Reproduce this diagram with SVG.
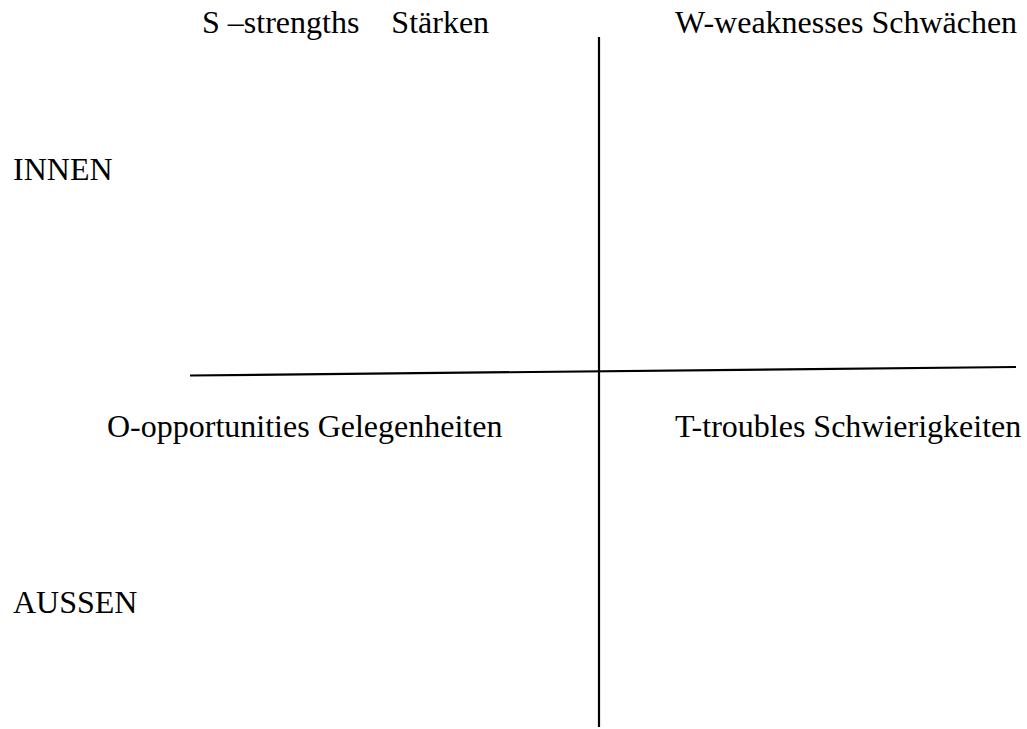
<svg xmlns="http://www.w3.org/2000/svg" width="1027" height="729" viewBox="0 0 1027 729">
  <style>
    .lbl { font-family: "Liberation Serif", "Times New Roman", serif; font-size: 32px; fill: #000; }
    .axis { stroke: #000; stroke-width: 2.2; fill: none; }
  </style>
  <rect width="1027" height="729" fill="#fff"/>
  <g id="connectors">
    <line class="axis" x1="599" y1="37" x2="599" y2="727"/>
    <line class="axis" x1="190" y1="375.5" x2="1016" y2="367"/>
  </g>
  <g id="strengths"><text class="lbl" x="202" y="33" xml:space="preserve">S –strengths    Stärken</text></g>
  <g id="weaknesses"><text class="lbl" x="675" y="33">W-weaknesses Schwächen</text></g>
  <g id="innen"><text class="lbl" x="13" y="180">INNEN</text></g>
  <g id="opportunities"><text class="lbl" x="107" y="437">O-opportunities Gelegenheiten</text></g>
  <g id="troubles"><text class="lbl" x="675" y="437">T-troubles Schwierigkeiten</text></g>
  <g id="aussen"><text class="lbl" x="13" y="613">AUSSEN</text></g>
</svg>
